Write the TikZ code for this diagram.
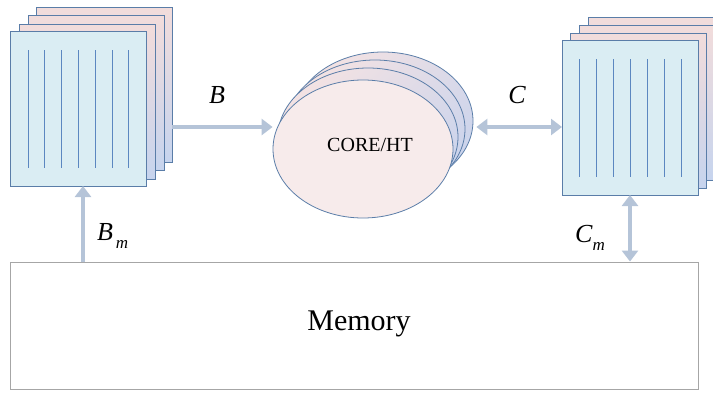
\documentclass[tikz,border=0pt]{standalone}
\usepackage{fontspec}
\setmainfont{Liberation Serif}
\usetikzlibrary{arrows.meta,positioning,shapes.geometric,calc}

\definecolor{sheetblue}{HTML}{DAEDF3}
\definecolor{sheetpink}{HTML}{F2DCDB}
\definecolor{sheetlav}{HTML}{C6D4EE}
\definecolor{edgeblue}{HTML}{5A7DA8}
\definecolor{rulesblue}{HTML}{5B87C0}
\definecolor{corepink}{HTML}{F3E2E3}
\definecolor{corelav}{HTML}{CBD4EC}
\definecolor{busgray}{HTML}{B5C4D8}
\definecolor{memgray}{HTML}{A6A6A6}

\begin{document}
\begin{tikzpicture}[
    x=1pt, y=-1pt,
    sheet/.style={draw=edgeblue, line width=0.9pt, rectangle, anchor=north west,
                  minimum width=136pt, minimum height=155pt,
                  inner sep=0pt, outer sep=0pt},
    backsheet/.style={sheet, top color=sheetpink, bottom color=sheetlav},
    frontsheet/.style={sheet, fill=sheetblue},
    rules/.style={draw=rulesblue, line width=0.9pt},
    core/.style={draw=edgeblue, line width=0.8pt, ellipse,
                 minimum width=180pt, minimum height=138pt, inner sep=0pt},
    backcore/.style={core, top color=corepink, middle color=corepink,
                     bottom color=corelav, shading angle=45},
    bus/.style={draw=busgray, line width=3.5pt,
                -{Triangle[length=11pt,width=16pt]}},
    dbus/.style={draw=busgray, line width=3.5pt,
                 {Triangle[length=11pt,width=16pt]}-{Triangle[length=11pt,width=16pt]}},
    lbl/.style={font=\fontsize{26}{30}\selectfont\itshape, inner sep=0pt},
    membox/.style={draw=memgray, line width=0.9pt, rectangle,
                   minimum width=688pt, minimum height=127pt}
]
\useasboundingbox (0,0) rectangle (713,394);
\clip (0,0) rectangle (713,394);

% left stack of sheets
\node[backsheet] (lb3) at (36,7) {};
\node[backsheet] (lb2) at (28,15) {};
\node[backsheet] (lb1) at (19,24) {};
\node[frontsheet] (lf) at (10,31) {};
\foreach \i in {0,...,6}
  \draw[rules] ($(lf.north west)+(18+16.8*\i,19)$) -- ($(lf.south west)+(18+16.8*\i,-18)$);

% right stack of sheets
\node[backsheet] (rb3) at (588,17) {};
\node[backsheet] (rb2) at (579,25) {};
\node[backsheet] (rb1) at (570,33) {};
\node[frontsheet] (rf) at (562,40) {};
\foreach \i in {0,...,6}
  \draw[rules] ($(rf.north west)+(17+17*\i,19)$) -- ($(rf.south west)+(17+17*\i,-18)$);

% cores
\node[backcore] (c3) at (383,121) {};
\node[backcore] (c2) at (375,129) {};
\node[backcore] (c1) at (368,137) {};
\node[core, fill=corepink!70!white] (c0) at (363,149) {};
\node[font=\fontsize{20}{24}\selectfont] (coretxt) at ($(c0)+(7,-4)$) {CORE/HT};

% memory
\node[membox] (mem) at (354,325.5) {};
\node[font=\fontsize{30}{36}\selectfont] (memtxt) at ($(mem)+(5,-2)$) {Memory};

% buses
\coordinate (busy) at (0,127);
\draw[bus] (lb3.east |- busy) -- (c0.west |- busy);
\draw[dbus] ([xshift=3pt]c3.east |- busy) -- (rf.west |- busy);
\draw[bus] ([xshift=5pt]lf.south |- mem.north) -- ([xshift=5pt]lf.south);
\draw[dbus] (rf.south) -- (rf.south |- mem.north);

% labels
\node[lbl] (lblb) at (217,95) {B};
\node[lbl] (lblc) at (517,95) {C};
\node[lbl, anchor=base west] (lblbm) at (97,240)
  {B\raisebox{-8pt}{\fontsize{17}{20}\selectfont\,m}};
\node[lbl, anchor=base west] (lblcm) at (575,242)
  {C\raisebox{-8pt}{\fontsize{17}{20}\selectfont m}};
\end{tikzpicture}
\end{document}
